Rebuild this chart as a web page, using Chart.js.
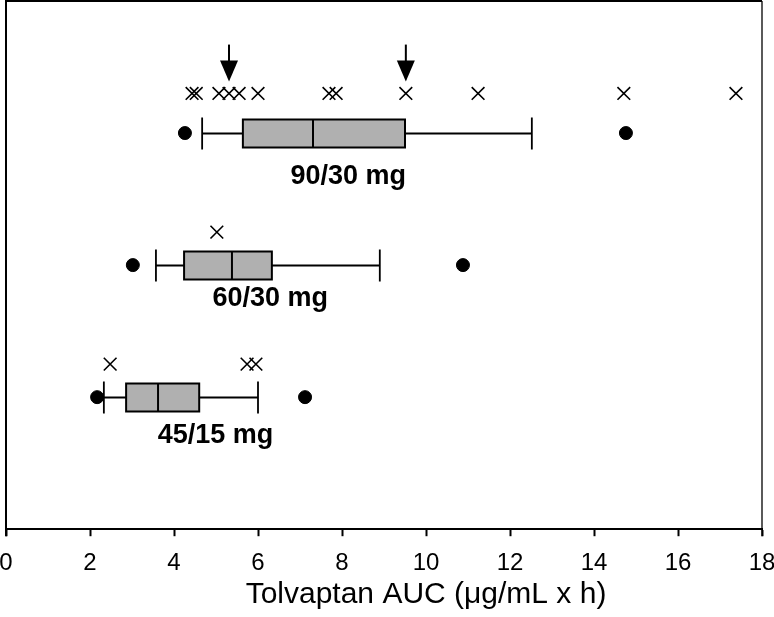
<!DOCTYPE html>
<html>
<head>
<meta charset="utf-8">
<script src="https://cdn.jsdelivr.net/npm/chart.js@4/dist/chart.umd.min.js"></script>
<style>
html,body{margin:0;padding:0;background:#fff;}
#wrap{width:774px;height:617px;}
</style>
</head>
<body>
<div id="wrap"><canvas id="c" width="774" height="617"></canvas></div>
<script>
// ---- data ----
const categories = ['45/15 mg', '60/30 mg', '90/30 mg'];
const groupY = [1, 2, 3];
const whiskerLow = [2.33, 3.57, 4.67];
const q1 = [2.86, 4.24, 5.64];
const median = [3.62, 5.38, 7.31];
const q3 = [4.60, 6.33, 9.50];
const whiskerHigh = [6.00, 8.90, 12.52];
const dotLow = [2.17, 3.02, 4.26];
const dotHigh = [7.12, 10.88, 14.76];
const crosses45 = [2.48, 5.74, 5.95];
const crosses60 = [5.02];
const crosses90 = [4.43, 4.53, 5.07, 5.31, 5.55, 6.00, 7.69, 7.86, 9.52, 11.24, 14.71, 17.38];
const crossY = [1.25, 2.25, 3.30];
const arrowX = [5.31, 9.52];
const arrowTipY = 3.39;
const arrowTopY = 3.67;
const labelX = [4.99, 6.29, 8.15];
const labelY = [0.71, 1.75, 2.67];
const xTicks = [0, 2, 4, 6, 8, 10, 12, 14, 16, 18];
const xTitle = 'Tolvaptan AUC (\u03bcg/mL x h)';
const xTitleCenter = 10;

const FONT = "'Liberation Sans', Arial, Helvetica, sans-serif";
Chart.defaults.font.family = FONT;
Chart.defaults.font.size = 24;
Chart.defaults.color = '#000';

const crossSets = [crosses45, crosses60, crosses90];
const crossData = [];
crossSets.forEach((arr, i) => arr.forEach(v => crossData.push({x: v, y: crossY[i]})));
const dotData = [];
groupY.forEach((g, i) => { dotData.push({x: dotLow[i], y: g}); dotData.push({x: dotHigh[i], y: g}); });

const boxPlugin = {
  id: 'boxPlugin',
  beforeDatasetsDraw(chart) {
    const ctx = chart.ctx, xs = chart.scales.x, ys = chart.scales.y;
    ctx.save();
    groupY.forEach((g, i) => {
      const y = Math.round(ys.getPixelForValue(g)) + 0.5;
      const xl = xs.getPixelForValue(whiskerLow[i]);
      const x1 = xs.getPixelForValue(q1[i]);
      const xm = xs.getPixelForValue(median[i]);
      const x3 = xs.getPixelForValue(q3[i]);
      const xh = xs.getPixelForValue(whiskerHigh[i]);
      const hb = 14, hc = 16;
      ctx.strokeStyle = '#000';
      ctx.lineWidth = 1.8;
      ctx.beginPath();
      ctx.moveTo(xl, y); ctx.lineTo(x1, y);
      ctx.moveTo(x3, y); ctx.lineTo(xh, y);
      ctx.moveTo(xl, y - hc); ctx.lineTo(xl, y + hc);
      ctx.moveTo(xh, y - hc); ctx.lineTo(xh, y + hc);
      ctx.stroke();
      ctx.fillStyle = '#b0b0b0';
      ctx.fillRect(x1, y - hb, x3 - x1, 2 * hb);
      ctx.lineWidth = 2;
      ctx.strokeRect(x1, y - hb, x3 - x1, 2 * hb);
      ctx.beginPath();
      ctx.moveTo(xm, y - hb); ctx.lineTo(xm, y + hb);
      ctx.stroke();
    });
    ctx.restore();
  },
  afterDatasetsDraw(chart) {
    const ctx = chart.ctx, xs = chart.scales.x, ys = chart.scales.y, a = chart.chartArea;
    ctx.save();
    // arrows
    arrowX.forEach(v => {
      const x = xs.getPixelForValue(v);
      const yt = ys.getPixelForValue(arrowTopY);
      const yp = ys.getPixelForValue(arrowTipY);
      const hl = 21, hw = 9;
      ctx.strokeStyle = '#000'; ctx.lineWidth = 2;
      ctx.beginPath(); ctx.moveTo(x, yt); ctx.lineTo(x, yp - hl + 2); ctx.stroke();
      ctx.fillStyle = '#000';
      ctx.beginPath(); ctx.moveTo(x - hw, yp - hl); ctx.lineTo(x + hw, yp - hl); ctx.lineTo(x, yp); ctx.closePath(); ctx.fill();
    });
    // group labels
    ctx.fillStyle = '#000';
    ctx.font = 'bold 27px ' + FONT;
    ctx.textAlign = 'center';
    ctx.textBaseline = 'middle';
    categories.forEach((c, i) => {
      ctx.fillText(c, xs.getPixelForValue(labelX[i]), ys.getPixelForValue(labelY[i]));
    });
    // frame
    ctx.strokeStyle = '#000';
    ctx.lineWidth = 2;
    ctx.beginPath();
    ctx.moveTo(a.left, a.bottom + 7); ctx.lineTo(a.left, a.top);
    ctx.lineTo(a.right, a.top);
    ctx.stroke();
    ctx.lineWidth = 1.3;
    ctx.beginPath();
    ctx.moveTo(a.right, a.top); ctx.lineTo(a.right, a.bottom + 7);
    ctx.stroke();
    // axis title
    ctx.font = '30px ' + FONT;
    ctx.textBaseline = 'middle';
    ctx.fillText(xTitle, xs.getPixelForValue(xTitleCenter), a.bottom + 66);
    ctx.restore();
  }
};

new Chart(document.getElementById('c'), {
  type: 'scatter',
  data: {
    datasets: [
      {
        label: 'crosses',
        data: crossData,
        pointStyle: 'crossRot',
        pointRadius: 9,
        pointHoverRadius: 9,
        borderColor: '#000',
        backgroundColor: '#000',
        borderWidth: 1.6
      },
      {
        label: 'dots',
        data: dotData,
        pointStyle: 'circle',
        pointRadius: 6.5,
        pointHoverRadius: 6.5,
        borderColor: '#000',
        backgroundColor: '#000',
        borderWidth: 1
      }
    ]
  },
  options: {
    responsive: false,
    animation: false,
    events: [],
    layout: { autoPadding: false, padding: { left: 6, right: 12, top: 1, bottom: 26 } },
    plugins: { legend: { display: false }, tooltip: { enabled: false }, title: { display: false } },
    scales: {
      x: {
        type: 'linear',
        min: 0, max: 18,
        afterBuildTicks: (s) => { s.ticks = xTicks.map(v => ({ value: v })); },
        afterFit: (s) => { s.paddingLeft = 0; s.paddingRight = 0; },
        grid: { display: true, drawOnChartArea: false, drawTicks: true, tickLength: 7, tickColor: '#000', tickWidth: 2 },
        border: { display: true, color: '#000', width: 2 },
        ticks: { color: '#000', font: { family: FONT, size: 24, lineHeight: 1.2 }, padding: 13, maxRotation: 0, autoSkip: false }
      },
      y: {
        type: 'linear',
        min: 0, max: 4,
        display: false
      }
    }
  },
  plugins: [boxPlugin]
});
</script>
</body>
</html>
